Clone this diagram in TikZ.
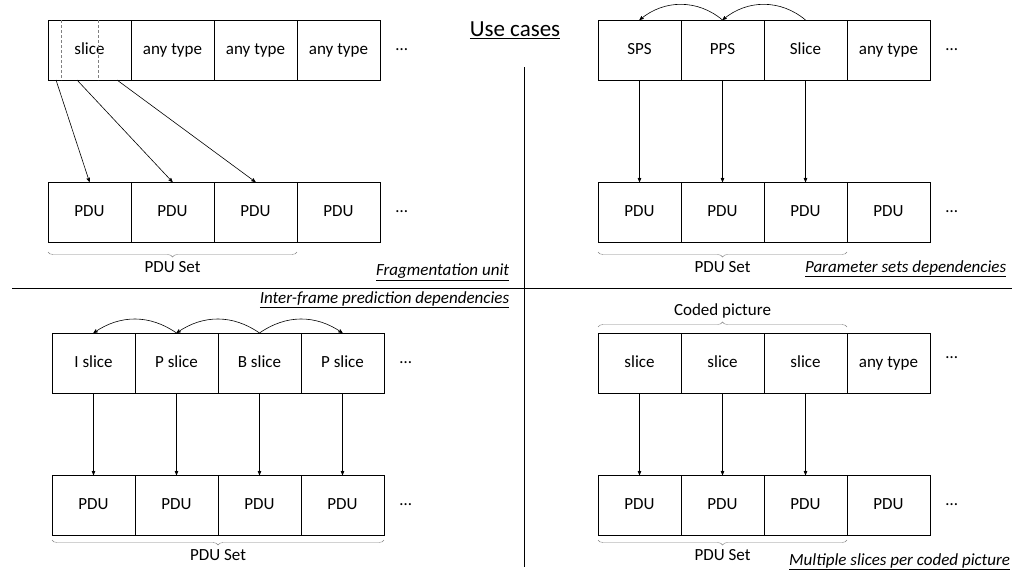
\documentclass[tikz,border=0pt]{standalone}
\usepackage{fontspec}
\setmainfont{Carlito}
\usetikzlibrary{arrows,positioning,calc,decorations.pathreplacing}
\tikzset{
    %Define standard arrow tip
    >=stealth',
    %Define style for cells
    cell/.style={
           draw, minimum width=83pt, minimum height=60pt,
           inner sep=0pt, outer sep=0pt, text centered,
           text height=12pt, text depth=4pt},
    % Define arrow style
    pil/.style={
           ->, semithick},
    % Define brace style
    grp/.style={
           draw=gray, decorate, decoration={brace, amplitude=5pt}},
    caption/.style={
           font=\fontsize{17}{20}\selectfont\itshape, anchor=east}
}

\begin{document}
\fontsize{17}{20}\selectfont
\begin{tikzpicture}[x=1pt, y=-1pt, node distance=0pt]
	\useasboundingbox (0,0) rectangle (1024,576);

	% Title and separators
	\node[font=\fontsize{23}{27}\selectfont] (title) at (515,30) {\underline{Use cases}};
	\coordinate (vt) at (524,67);
	\coordinate (vb) at (524,567);
	\coordinate (hl) at (12,288);
	\coordinate (hr) at (1012,288);
	\draw[thick] (vt) -- (vb);
	\draw[thick] (hl) -- (hr);

	% Fragmentation unit
	\node[cell, anchor=north west] (a1) at (48,20) {slice};
	\node[cell, right=of a1] (a2) {any type};
	\node[cell, right=of a2] (a3) {any type};
	\node[cell, right=of a3] (a4) {any type};
	\node[right=10pt of a4] (adots) {\dots};
	\node[cell, anchor=north west] (ap1) at (48,182) {PDU};
	\node[cell, right=of ap1] (ap2) {PDU};
	\node[cell, right=of ap2] (ap3) {PDU};
	\node[cell, right=of ap3] (ap4) {PDU};
	\node[right=10pt of ap4] (apdots) {\dots};
	\draw[densely dashed, gray] ($(a1.north west)+(13,0)$) -- ($(a1.south west)+(13,0)$);
	\draw[densely dashed, gray] ($(a1.north west)+(50,0)$) -- ($(a1.south west)+(50,0)$);
	\coordinate (f1) at ($(a1.south west)+(8,0)$);
	\coordinate (f2) at ($(a1.south west)+(29,0)$);
	\coordinate (f3) at ($(a1.south west)+(69,0)$);
	\draw[pil] (f1) -- (ap1.north);
	\draw[pil] (f2) -- (ap2.north);
	\draw[pil] (f3) -- (ap3.north);
	\draw[grp] ($(ap3.south east)+(0,10)$) -- node[below=4pt] (aset) {PDU Set} ($(ap1.south west)+(0,10)$);
	\node[caption] (acap) at (515,272) {\underline{Fragmentation unit}};

	% Parameter sets dependencies
	\node[cell, anchor=north west] (b1) at (598,20) {SPS};
	\node[cell, right=of b1] (b2) {PPS};
	\node[cell, right=of b2] (b3) {Slice};
	\node[cell, right=of b3] (b4) {any type};
	\node[right=10pt of b4] (bdots) {\dots};
	\node[cell, anchor=north west] (bp1) at (598,182) {PDU};
	\node[cell, right=of bp1] (bp2) {PDU};
	\node[cell, right=of bp2] (bp3) {PDU};
	\node[cell, right=of bp3] (bp4) {PDU};
	\node[right=10pt of bp4] (bpdots) {\dots};
	\draw[pil] (b1) -- (bp1);
	\draw[pil] (b2) -- (bp2);
	\draw[pil] (b3) -- (bp3);
	\draw[pil] (b3.north) to[bend right=40] (b2.north);
	\draw[pil] (b2.north) to[bend right=40] (b1.north);
	\draw[grp] ($(bp3.south east)+(0,10)$) -- node[below=4pt] (bset) {PDU Set} ($(bp1.south west)+(0,10)$);
	\node[caption] (bcap) at (1012,269) {\underline{Parameter sets dependencies}};

	% Inter-frame prediction dependencies
	\node[cell, anchor=north west] (c1) at (52,333) {I slice};
	\node[cell, right=of c1] (c2) {P slice};
	\node[cell, right=of c2] (c3) {B slice};
	\node[cell, right=of c3] (c4) {P slice};
	\node[right=10pt of c4] (cdots) {\dots};
	\node[cell, anchor=north west] (cp1) at (52,475) {PDU};
	\node[cell, right=of cp1] (cp2) {PDU};
	\node[cell, right=of cp2] (cp3) {PDU};
	\node[cell, right=of cp3] (cp4) {PDU};
	\node[right=10pt of cp4] (cpdots) {\dots};
	\draw[pil] (c1) -- (cp1);
	\draw[pil] (c2) -- (cp2);
	\draw[pil] (c3) -- (cp3);
	\draw[pil] (c4) -- (cp4);
	\draw[pil] (c2.north) to[bend right=35] (c1.north);
	\draw[pil] (c3.north) to[bend right=35] (c2.north);
	\draw[pil] (c3.north) to[bend left=35] (c4.north);
	\draw[grp] ($(cp4.south east)+(0,5)$) -- node[below=4pt] (cset) {PDU Set} ($(cp1.south west)+(0,5)$);
	\node[caption] (ccap) at (515,300) {\underline{Inter-frame prediction dependencies}};

	% Multiple slices per coded picture
	\node[cell, anchor=north west] (d1) at (598,333) {slice};
	\node[cell, right=of d1] (d2) {slice};
	\node[cell, right=of d2] (d3) {slice};
	\node[cell, right=of d3] (d4) {any type};
	\node[right=10pt of d4, yshift=5pt] (ddots) {\dots};
	\node[cell, anchor=north west] (dp1) at (598,475) {PDU};
	\node[cell, right=of dp1] (dp2) {PDU};
	\node[cell, right=of dp2] (dp3) {PDU};
	\node[cell, right=of dp3] (dp4) {PDU};
	\node[right=10pt of dp4] (dpdots) {\dots};
	\draw[pil] (d1) -- (dp1);
	\draw[pil] (d2) -- (dp2);
	\draw[pil] (d3) -- (dp3);
	\draw[grp] ($(d1.north west)+(0,-6)$) -- node[above=3pt] (dpic) {Coded picture} ($(d3.north east)+(0,-6)$);
	\draw[grp] ($(dp3.south east)+(0,5)$) -- node[below=4pt] (dset) {PDU Set} ($(dp1.south west)+(0,5)$);
	\node[caption] (dcap) at (1016,562) {\underline{Multiple slices per coded picture}};
\end{tikzpicture}
\end{document}
